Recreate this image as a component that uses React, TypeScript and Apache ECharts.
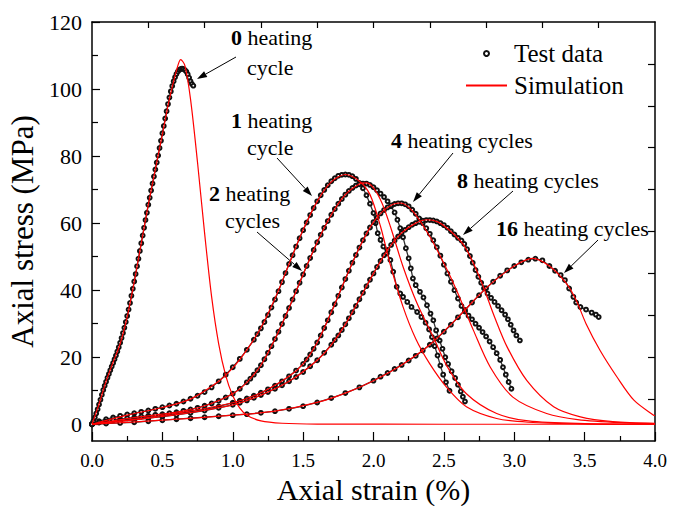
import React, { useEffect, useRef } from "react";
import * as echarts from "echarts";

// ---------- axis ticks ----------
const xMin = 0;
const xMax = 4;
const xInterval = 0.5;
const xTopTickValues = [0.4, 0.8, 1.2, 1.6, 2.0, 2.4, 2.8, 3.2, 3.6];
const yMin = -5;
const yMax = 120;
const yTickValues = [0, 20, 40, 60, 80, 100, 120];
const yMinorTickValues = [10, 30, 50, 70, 90, 110];
const yRightTickValues = [7.5, 20, 32.5, 45, 57.5, 70, 82.5, 95, 107.5];

// ---------- test data (hollow circles) ----------
const test0 = [
  [0, 0], [0.01, 0.9], [0.02, 2], [0.03, 3.2], [0.04, 4.5], [0.05, 5.9], [0.06, 7.3], [0.07, 8.8], [0.08, 10.2], [0.09, 11.5],
  [0.1, 12.7], [0.11, 13.9], [0.12, 15], [0.13, 16.1], [0.14, 17.2], [0.15, 18.3], [0.16, 19.4], [0.17, 20.5], [0.18, 21.7], [0.19, 23],
  [0.2, 24.3], [0.21, 25.7], [0.22, 27.2], [0.23, 28.8], [0.24, 30.5], [0.25, 32.3], [0.26, 34.2], [0.27, 36.2], [0.28, 38.3], [0.29, 40.4],
  [0.3, 42.6], [0.31, 44.8], [0.32, 47.1], [0.33, 49.4], [0.34, 51.7], [0.35, 54], [0.36, 56.3], [0.37, 58.6], [0.38, 60.9], [0.39, 63.1],
  [0.4, 65.5], [0.41, 67.6], [0.42, 69.7], [0.43, 71.8], [0.44, 73.9], [0.45, 76], [0.46, 78.1], [0.47, 80.2], [0.48, 82.4], [0.49, 84.6],
  [0.5, 86.8], [0.51, 89], [0.52, 91.2], [0.53, 93.4], [0.54, 95.5], [0.55, 97.5], [0.56, 99.3], [0.57, 100.9], [0.58, 102.3], [0.59, 103.5],
  [0.6, 104.5], [0.61, 105.2], [0.62, 105.7], [0.63, 106], [0.64, 106.1], [0.65, 106], [0.66, 105.7], [0.67, 105.2], [0.68, 104.4], [0.69, 103.4],
  [0.7, 102.3], [0.71, 101.5], [0.72, 101],
];
const test1 = [
  [0, 0], [0.05, 0.9], [0.1, 1.5], [0.15, 2], [0.2, 2.5], [0.25, 2.9], [0.3, 3.3], [0.35, 3.7], [0.4, 4.1], [0.45, 4.6],
  [0.5, 5.1], [0.55, 5.6], [0.6, 6.1], [0.65, 6.8], [0.7, 7.6], [0.75, 8.5], [0.8, 9.6], [0.85, 11], [0.9, 12.8], [0.95, 14.8],
  [1.0, 17], [1.05, 19.5], [1.1, 22.2], [1.15, 25.2], [1.175, 26.9], [1.2, 28.6], [1.225, 30.5], [1.25, 32.6], [1.275, 34.8], [1.3, 37.2],
  [1.325, 39.7], [1.35, 42.4], [1.375, 45.1], [1.4, 47.8], [1.425, 50.4], [1.45, 53], [1.475, 55.5], [1.5, 57.9], [1.525, 60.2], [1.55, 62.4],
  [1.575, 64.5], [1.6, 66.5], [1.625, 68.3], [1.65, 69.9], [1.675, 71.3], [1.7, 72.5], [1.725, 73.4], [1.75, 74.1], [1.775, 74.4], [1.8, 74.5],
  [1.825, 74.4], [1.85, 74], [1.875, 73.2], [1.9, 72], [1.925, 70.4], [1.95, 68.3], [1.975, 65.8], [2.0, 63], [2.015, 60], [2.03, 57],
  [2.05, 55], [2.07, 53], [2.095, 51], [2.12, 49], [2.14, 45.5], [2.165, 41], [2.19, 39], [2.21, 38], [2.24, 36.5], [2.27, 35],
  [2.31, 33.5], [2.34, 32], [2.37, 30.3], [2.395, 28.3], [2.415, 26], [2.435, 23.3], [2.455, 20.5], [2.475, 17.5], [2.495, 14.8], [2.515, 12.5],
  [2.54, 10],
];
const test2 = [
  [0, 0], [0.05, 0.5], [0.1, 0.8], [0.15, 1.2], [0.2, 1.5], [0.25, 1.8], [0.3, 2], [0.35, 2.3], [0.4, 2.5], [0.45, 2.8],
  [0.5, 3], [0.55, 3.3], [0.6, 3.6], [0.65, 4], [0.7, 4.4], [0.75, 4.9], [0.8, 5.5], [0.85, 6.2], [0.9, 7], [0.95, 8],
  [1.0, 9.1], [1.05, 10.6], [1.1, 12.5], [1.125, 13.6], [1.15, 14.8], [1.175, 16.1], [1.2, 17.6], [1.225, 19.4], [1.25, 21.3], [1.275, 23.3],
  [1.3, 25.4], [1.325, 27.6], [1.35, 29.9], [1.375, 32.3], [1.4, 34.7], [1.425, 37.2], [1.45, 39.7], [1.475, 42.2], [1.5, 44.7], [1.525, 47.2],
  [1.55, 49.6], [1.575, 52], [1.6, 54.3], [1.625, 56.5], [1.65, 58.6], [1.675, 60.6], [1.7, 62.5], [1.725, 64.2], [1.75, 65.8], [1.775, 67.2],
  [1.8, 68.5], [1.825, 69.6], [1.85, 70.5], [1.875, 71.2], [1.9, 71.6], [1.925, 71.8], [1.95, 71.8], [1.975, 71.4], [2.0, 70.7], [2.025, 69.8],
  [2.05, 68.8], [2.075, 67.8], [2.1, 66.5], [2.125, 65], [2.15, 63.2], [2.17, 61], [2.19, 58.5], [2.21, 55.8], [2.23, 52.5], [2.25, 49.5],
  [2.265, 46.5], [2.28, 43.5], [2.3, 41.5], [2.33, 39.5], [2.355, 37.8], [2.38, 35.5], [2.405, 33], [2.425, 31], [2.445, 28], [2.47, 25],
  [2.49, 22.5], [2.51, 20], [2.53, 18], [2.555, 15.8], [2.58, 13.8], [2.6, 11.8], [2.62, 9.8], [2.635, 8.2], [2.65, 6.8],
];
const test4 = [
  [0, 0], [0.1, 0.6], [0.2, 1.1], [0.3, 1.6], [0.4, 2.1], [0.5, 2.6], [0.6, 3.1], [0.7, 3.7], [0.8, 4.4], [0.9, 5.3],
  [1.0, 6.4], [1.05, 7], [1.1, 7.7], [1.15, 8.5], [1.2, 9.4], [1.25, 10.4], [1.3, 11.5], [1.35, 12.8], [1.4, 14.3], [1.45, 16],
  [1.5, 18], [1.525, 19.3], [1.55, 20.8], [1.575, 22.5], [1.6, 24.4], [1.625, 26.5], [1.65, 28.7], [1.675, 31], [1.7, 33.4], [1.725, 35.8],
  [1.75, 38.3], [1.775, 40.8], [1.8, 43.3], [1.825, 45.8], [1.85, 48.2], [1.875, 50.5], [1.9, 52.7], [1.925, 54.9], [1.95, 56.9], [1.975, 58.7],
  [2.0, 60.3], [2.025, 61.7], [2.05, 62.9], [2.075, 63.9], [2.1, 64.7], [2.125, 65.3], [2.15, 65.7], [2.175, 65.9], [2.2, 65.9], [2.225, 65.6],
  [2.25, 65], [2.275, 64], [2.3, 62.8], [2.325, 61.4], [2.35, 60], [2.375, 58.5], [2.4, 56.8], [2.425, 54.9], [2.45, 52.8], [2.475, 50.3],
  [2.5, 47.6], [2.525, 45], [2.55, 42.5], [2.575, 40], [2.6, 37.5], [2.625, 35.3], [2.65, 33.6], [2.675, 32.4], [2.7, 31.3], [2.725, 30],
  [2.75, 28.8], [2.775, 27.5], [2.8, 26.2], [2.825, 24.7], [2.85, 23], [2.875, 21.2], [2.9, 19.2], [2.92, 17], [2.94, 14.8], [2.96, 12.6],
  [2.98, 10.6],
];
const test8 = [
  [0, 0], [0.1, 0.5], [0.2, 0.9], [0.3, 1.3], [0.4, 1.8], [0.5, 2.3], [0.6, 2.8], [0.7, 3.4], [0.8, 4.1], [0.9, 4.9],
  [1.0, 5.8], [1.05, 6.4], [1.1, 7.1], [1.15, 7.9], [1.2, 8.7], [1.25, 9.6], [1.3, 10.6], [1.35, 11.6], [1.4, 12.8], [1.45, 14.1],
  [1.5, 15.6], [1.55, 17.3], [1.6, 19.1], [1.65, 21.3], [1.7, 23.7], [1.725, 25.1], [1.75, 26.5], [1.775, 28.1], [1.8, 29.8], [1.825, 31.6],
  [1.85, 33.4], [1.875, 35.3], [1.9, 37.3], [1.925, 39.2], [1.95, 41.2], [1.975, 43.1], [2.0, 45], [2.025, 46.9], [2.05, 48.7], [2.075, 50.4],
  [2.1, 52], [2.125, 53.5], [2.15, 54.8], [2.175, 56], [2.2, 57.1], [2.225, 58], [2.25, 58.8], [2.275, 59.5], [2.3, 60], [2.325, 60.4],
  [2.35, 60.7], [2.375, 60.9], [2.4, 60.9], [2.425, 60.8], [2.45, 60.5], [2.475, 60], [2.5, 59.4], [2.525, 58.6], [2.55, 57.6], [2.575, 56.6],
  [2.6, 55.6], [2.625, 54.8], [2.645, 53.8], [2.665, 52.2], [2.685, 50.2], [2.705, 48.2], [2.725, 46], [2.745, 44], [2.765, 42.2], [2.785, 40.6],
  [2.81, 39], [2.835, 37.7], [2.86, 36.5], [2.885, 35.3], [2.91, 34], [2.935, 32.7], [2.955, 31.3], [2.975, 29.7], [2.995, 28], [3.015, 26.5],
  [3.04, 25],
];
const test16 = [
  [0, 0], [0.1, 0.2], [0.2, 0.4], [0.3, 0.6], [0.4, 0.9], [0.5, 1.2], [0.6, 1.5], [0.7, 1.8], [0.8, 2.1], [0.9, 2.4],
  [1.0, 2.7], [1.1, 3], [1.2, 3.4], [1.3, 3.9], [1.4, 4.6], [1.5, 5.4], [1.6, 6.5], [1.7, 7.8], [1.8, 9.3], [1.9, 11],
  [2.0, 13], [2.05, 14.2], [2.1, 15.3], [2.15, 16.5], [2.2, 17.7], [2.25, 19], [2.3, 20.4], [2.35, 22], [2.4, 23.7], [2.45, 25.6],
  [2.5, 27.6], [2.55, 29.7], [2.6, 31.9], [2.65, 34.1], [2.7, 36.3], [2.75, 38.5], [2.8, 40.6], [2.85, 42.5], [2.9, 44.3], [2.95, 45.9],
  [3.0, 47.2], [3.05, 48.3], [3.1, 49.1], [3.15, 49.4], [3.2, 48.9], [3.25, 47.2], [3.29, 45.8], [3.33, 44.5], [3.36, 43], [3.39, 40.5],
  [3.42, 38], [3.44, 36.3], [3.47, 35], [3.51, 34.2], [3.55, 33.3], [3.58, 32.7], [3.6, 32],
];

// ---------- simulation curves (red lines) ----------
const sim0 = [
  [0, 0], [0.05, 6], [0.1, 12.8], [0.15, 18.5], [0.2, 24], [0.25, 32], [0.3, 42.5], [0.35, 54], [0.4, 65.5], [0.45, 76],
  [0.5, 86.5], [0.55, 97], [0.6, 105.5], [0.63, 108.8], [0.66, 107], [0.7, 97], [0.75, 78], [0.8, 57], [0.85, 38], [0.9, 24],
  [0.95, 14.5], [1.0, 8.5], [1.05, 4.8], [1.1, 2.7], [1.2, 1], [1.35, 0.3], [1.6, 0.05], [2.5, 0], [4, 0],
];
const sim1 = [
  [0, 0], [0.25, 2.7], [0.5, 5], [0.7, 7.5], [0.9, 12.8], [1.0, 16.8], [1.1, 22.2], [1.2, 28.8], [1.3, 37.5], [1.4, 47.8],
  [1.5, 58], [1.6, 66.5], [1.7, 72.3], [1.8, 74.5], [1.9, 72.5], [1.975, 68.5], [2.05, 59], [2.12, 47.5], [2.21, 35], [2.3, 25.5],
  [2.4, 18], [2.52, 11], [2.66, 5.2], [2.875, 1.7], [3.1, 0.6], [3.5, 0.1], [4, 0],
];
const sim2 = [
  [0, 0], [0.3, 2], [0.6, 3.6], [0.8, 5.5], [1.0, 9.1], [1.1, 12.5], [1.2, 17.6], [1.3, 25.4], [1.4, 34.7], [1.5, 44.7],
  [1.6, 54.3], [1.7, 62.5], [1.8, 68.5], [1.9, 71.7], [1.95, 72], [2.0, 70.5], [2.06, 66], [2.12, 59], [2.21, 47], [2.31, 36],
  [2.425, 26], [2.52, 17.5], [2.66, 9.1], [2.875, 3.2], [3.1, 1], [3.5, 0.2], [4, 0],
];
const sim4 = [
  [0, 0], [0.5, 2.6], [1.0, 6.4], [1.2, 9.4], [1.4, 14.3], [1.5, 18], [1.6, 24.4], [1.7, 33.4], [1.8, 43.3], [1.9, 52.7],
  [2.0, 60.3], [2.1, 64.7], [2.19, 66], [2.28, 63.5], [2.4, 56], [2.5, 48], [2.59, 40], [2.71, 28], [2.83, 17], [2.99, 8.1],
  [3.23, 3.2], [3.45, 1.4], [3.8, 0.4], [4, 0.2],
];
const sim8 = [
  [0, 0], [0.5, 2.3], [1.0, 5.8], [1.2, 8.7], [1.4, 12.8], [1.6, 19.1], [1.7, 23.7], [1.8, 29.8], [1.9, 37.3], [2.0, 45],
  [2.1, 52], [2.2, 57.1], [2.3, 60], [2.38, 61], [2.46, 60.3], [2.55, 57.5], [2.64, 53.5], [2.71, 48], [2.78, 41], [2.86, 32],
  [2.95, 23], [3.09, 13], [3.28, 5.2], [3.47, 2.2], [3.7, 0.8], [4, 0.3],
];
const sim16 = [
  [0, 0], [0.5, 1.2], [1.0, 2.7], [1.3, 3.9], [1.6, 6.5], [1.8, 9.3], [2.0, 13], [2.2, 17.7], [2.4, 23.7], [2.6, 31.9],
  [2.8, 40.6], [3.0, 47.2], [3.13, 49.5], [3.25, 47.2], [3.37, 42], [3.44, 37], [3.51, 30], [3.61, 22], [3.73, 14.1], [3.85, 7.2],
  [3.99, 2.7], [4, 2.6],
];

const testSets = [test0, test1, test2, test4, test8, test16];
const simSets = [sim0, sim1, sim2, sim4, sim8, sim16];

// ---------- annotation texts ----------
const annNumbers = ["0", "", "1", "", "2", "", "4", "8", "16"];
const annTexts = [" heating", "cycle", " heating", "cycle", " heating", "cycles", " heating cycles", " heating cycles", " heating cycles"];

const FAMILY = "Liberation Serif";
const ANN_SIZE = 22;

let measureCtx: CanvasRenderingContext2D | null = null;
function textWidth(text: string, bold: boolean) {
  if (!measureCtx) {
    const c = document.createElement("canvas");
    measureCtx = c.getContext("2d");
  }
  if (!measureCtx) return text.length * ANN_SIZE * 0.45;
  measureCtx.font = (bold ? "bold " : "") + ANN_SIZE + "px '" + FAMILY + "'";
  return measureCtx.measureText(text).width;
}

function arrow(x1: number, y1: number, x2: number, y2: number) {
  const dx = x2 - x1;
  const dy = y2 - y1;
  const L = Math.hypot(dx, dy);
  const ux = dx / L;
  const uy = dy / L;
  const hl = 10;
  const hw = 3.3;
  const bx = x2 - ux * hl;
  const by = y2 - uy * hl;
  return [
    { type: "line", silent: true, shape: { x1, y1, x2: bx, y2: by }, style: { stroke: "#000", lineWidth: 1 } },
    {
      type: "polygon",
      silent: true,
      shape: { points: [[x2, y2], [bx - uy * hw, by + ux * hw], [bx + uy * hw, by - ux * hw]] },
      style: { fill: "#000" },
    },
  ];
}

// annotation as a title component (same text path as legend / axis labels)
function annTitle(cx: number, cy: number, idx: number) {
  const num = annNumbers[idx];
  const rest = annTexts[idx];
  const wn = num ? textWidth(num, true) : 0;
  const wr = textWidth(rest, false);
  const left = cx - (wn + wr) / 2;
  return {
    left: Math.round(left),
    top: Math.round(cy - ANN_SIZE / 2),
    padding: 0,
    itemGap: 0,
    text: (num ? "{b|" + num + "}" : "") + "{r|" + rest + "}",
    textStyle: {
      fontSize: ANN_SIZE,
      fontFamily: FAMILY,
      fontWeight: "normal",
      color: "#000",
      lineHeight: ANN_SIZE,
      rich: {
        b: { fontSize: ANN_SIZE, fontFamily: FAMILY, fontWeight: "bold", color: "#000", lineHeight: ANN_SIZE },
        r: { fontSize: ANN_SIZE, fontFamily: FAMILY, fontWeight: "normal", color: "#000", lineHeight: ANN_SIZE },
      },
    },
  };
}

export default function App() {
  const ref = useRef<HTMLDivElement>(null);

  useEffect(() => {
    if (!ref.current) return;
    const chart = echarts.init(ref.current, undefined, { renderer: "svg" });

    const testSeries = testSets.map((d) => ({
      name: "Test data",
      type: "line",
      data: d,
      xAxisIndex: 0,
      yAxisIndex: 0,
      symbol: "emptyCircle",
      symbolSize: 3.8,
      showSymbol: true,
      showAllSymbol: true,
      lineStyle: { color: "#333", width: 1.3 },
      itemStyle: { color: "#111", borderWidth: 0.9 },
      z: 2,
    }));
    const simSeries = simSets.map((d) => ({
      name: "Simulation",
      type: "line",
      data: d,
      xAxisIndex: 0,
      yAxisIndex: 0,
      symbol: "none",
      smooth: 0.3,
      lineStyle: { color: "#ff0000", width: 1.2 },
      itemStyle: { color: "#ff0000" },
      z: 3,
    }));

    const axisLine = { show: true, onZero: false, lineStyle: { color: "#000", width: 1.5 } };
    const tickStyle = { color: "#000", width: 1.2 };
    const majorTick = { show: true, inside: true, length: 9, lineStyle: tickStyle };

    const option: any = {
      animation: false,
      title: [
        annTitle(272, 37, 0),
        annTitle(270, 67, 1),
        annTitle(272, 120, 2),
        annTitle(270, 147, 3),
        annTitle(250, 193, 4),
        annTitle(252, 220, 5),
        annTitle(462, 140, 6),
        annTitle(528, 180, 7),
        annTitle(572, 228, 8),
      ],
      grid: { left: 92, right: 25, top: 22, bottom: 65, containLabel: false, outerBoundsMode: "none" },
      legend: {
        orient: "vertical",
        left: 465,
        top: 41,
        padding: 0,
        itemWidth: 41,
        itemHeight: 5,
        itemGap: 7,
        selectedMode: false,
        data: [
          { name: "Test data", icon: "emptyCircle" },
          { name: "Simulation", itemStyle: { color: "rgba(0,0,0,0)", borderWidth: 0, opacity: 0 } },
        ],
        textStyle: { fontSize: 25, fontFamily: FAMILY, color: "#000", lineHeight: 25, padding: [0, 0, 0, 2] },
      },
      xAxis: [
        {
          type: "value",
          position: "bottom",
          min: xMin,
          max: xMax,
          interval: xInterval,
          name: "Axial strain (%)",
          nameLocation: "middle",
          nameGap: 32,
          nameTextStyle: { fontSize: 30, fontFamily: FAMILY, color: "#000", lineHeight: 30 },
          axisLine,
          axisTick: majorTick,
          minorTick: { show: true, splitNumber: 2, length: 5, lineStyle: tickStyle },
          axisLabel: {
            margin: 10,
            fontSize: 19,
            fontFamily: FAMILY,
            color: "#000",
            formatter: (v: number) => v.toFixed(1),
          },
          splitLine: { show: false },
          minorSplitLine: { show: false },
        },
        {
          type: "value",
          position: "top",
          min: xMin,
          max: xMax,
          interval: xInterval,
          axisLine,
          axisTick: { show: true, inside: true, length: 6, lineStyle: tickStyle, customValues: xTopTickValues },
          axisLabel: { show: false },
          splitLine: { show: false },
        },
      ],
      yAxis: [
        {
          type: "value",
          position: "left",
          min: yMin,
          max: yMax,
          name: "Axial stress (MPa)",
          nameLocation: "middle",
          nameGap: 46,
          nameRotate: 90,
          nameTextStyle: { fontSize: 31, fontFamily: FAMILY, color: "#000" },
          axisLine,
          axisTick: { show: true, inside: true, length: 8, lineStyle: tickStyle, customValues: yTickValues },
          axisLabel: {
            customValues: yTickValues,
            margin: 10,
            fontSize: 22,
            fontFamily: FAMILY,
            color: "#000",
          },
          splitLine: { show: false },
        },
        {
          type: "value",
          position: "left",
          min: yMin,
          max: yMax,
          axisLine: { show: false, onZero: false },
          axisTick: { show: true, inside: true, length: 6, customValues: yMinorTickValues, lineStyle: tickStyle },
          axisLabel: { show: false },
          splitLine: { show: false },
        },
        {
          type: "value",
          position: "right",
          min: yMin,
          max: yMax,
          axisLine,
          axisTick: { show: true, inside: true, length: 7, lineStyle: tickStyle, customValues: yRightTickValues },
          axisLabel: { show: false },
          splitLine: { show: false },
        },
      ],
      graphic: [
        ...arrow(236, 57, 197, 79),
        ...arrow(277, 158, 312, 196),
        ...arrow(257, 232, 302, 271),
        ...arrow(453, 153, 413, 202),
        ...arrow(513, 191, 463, 235),
        ...arrow(598, 240, 564, 273),
      ],
      series: [...testSeries, ...simSeries],
    };

    chart.setOption(option);
    return () => chart.dispose();
  }, []);

  return (
    <div
      ref={ref}
      style={{ position: "fixed", left: 0, top: 0, width: 680, height: 506, background: "#fff" }}
    />
  );
}
